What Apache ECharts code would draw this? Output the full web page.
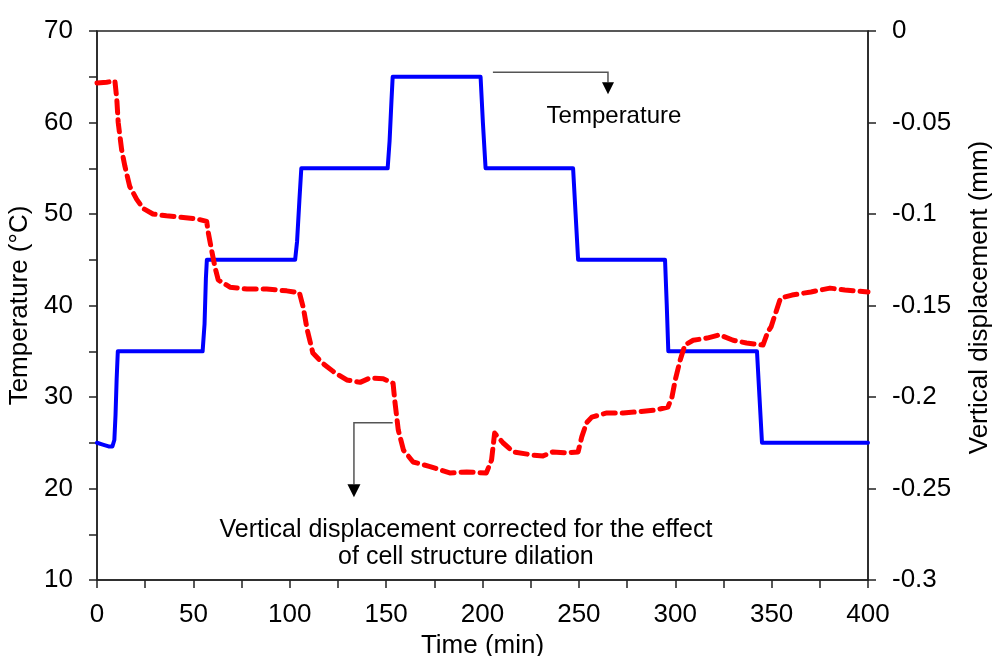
<!DOCTYPE html>
<html>
<head>
<meta charset="utf-8">
<script src="https://cdn.jsdelivr.net/npm/echarts@6/dist/echarts.min.js"></script>
<style>
html,body{margin:0;padding:0;background:#fff;}
#chart{width:997px;height:656px;}
</style>
</head>
<body>
<div id="chart"></div>
<script>
// Temperature (blue, left axis)
const tempTime = [0, 3, 6, 8, 9, 9.6, 10.2, 10.8, 54.8, 55.8, 56.5, 57, 102.8, 103.8, 105, 106, 150.8, 151.8, 152.8, 153.4, 199, 200.2, 201.6, 247, 248.3, 249.6, 294.7, 295.6, 296.4, 342.4, 343.7, 345, 400];
const tempValue = [25, 24.8, 24.6, 24.6, 25.3, 28, 32, 35, 35, 38, 43, 45, 45, 47, 51.5, 55, 55, 58, 62.5, 65, 65, 60, 55, 55, 50, 45, 45, 40, 35, 35, 30, 25, 25];

// Vertical displacement (red dashed, right axis)
const dispTime = [0, 5, 9.3, 10.3, 11, 12.8, 14.5, 17, 20.6, 24, 29, 36, 43, 51.7, 56.9, 57.7, 59.5, 61.2, 62.9, 69, 77.8, 88, 98.4, 105, 107, 109, 112, 117, 122.5, 129.6, 136.5, 141.6, 148.5, 153.6, 154.6, 156.3, 159, 164, 172.8, 183, 191.8, 202, 204.7, 206.3, 210.6, 216, 226, 231.4, 236.6, 243.6, 249.6, 251.5, 254, 256.7, 264.5, 273, 281.7, 290.4, 296.2, 298.3, 300, 302.5, 305, 309.3, 316.5, 323, 330, 337, 345.5, 348, 349.7, 354.6, 360.6, 370.4, 380.3, 388, 400];
const dispValue = [-0.0284, -0.028, -0.0273, -0.0377, -0.050, -0.065, -0.074, -0.085, -0.092, -0.097, -0.100, -0.101, -0.1017, -0.1027, -0.104, -0.110, -0.120, -0.129, -0.136, -0.140, -0.141, -0.141, -0.142, -0.143, -0.151, -0.163, -0.176, -0.1815, -0.186, -0.1907, -0.192, -0.1896, -0.190, -0.1925, -0.203, -0.218, -0.229, -0.2355, -0.238, -0.2415, -0.241, -0.2415, -0.2344, -0.2197, -0.225, -0.230, -0.2317, -0.2322, -0.230, -0.2306, -0.230, -0.2218, -0.214, -0.211, -0.2087, -0.2087, -0.208, -0.207, -0.2055, -0.200, -0.1907, -0.180, -0.1716, -0.169, -0.1678, -0.166, -0.169, -0.1705, -0.1716, -0.1645, -0.1617, -0.146, -0.1443, -0.1426, -0.1405, -0.1415, -0.1426];

// Axis tick labels
const xLabels = [0, 50, 100, 150, 200, 250, 300, 350, 400];
const yLeftLabels = [10, 20, 30, 40, 50, 60, 70];

const FONT = 'Liberation Sans, Arial, sans-serif';
const AXIS_COLOR = '#222';

const chart = echarts.init(document.getElementById('chart'), null, {renderer: 'canvas'});

const tempData = tempTime.map((t, i) => [t, tempValue[i]]);
const dispData = dispTime.map((t, i) => [t, dispValue[i]]);

const option = {
  animation: false,
  backgroundColor: '#fff',
  grid: {left: 97, right: 129, top: 31, bottom: 76, show: true, borderColor: AXIS_COLOR, borderWidth: 1.5, containLabel: false, outerBoundsMode: 'none'},
  xAxis: {
    type: 'value', min: 0, max: 400, interval: 25,
    name: 'Time (min)', nameLocation: 'middle', nameGap: 53,
    nameTextStyle: {fontFamily: FONT, fontSize: 26, color: '#000'},
    axisLine: {show: true, onZero: false, lineStyle: {color: AXIS_COLOR, width: 1.5}},
    axisTick: {show: true, inside: false, length: 8, lineStyle: {color: AXIS_COLOR, width: 1.5}},
    axisLabel: {fontFamily: FONT, fontSize: 26, color: '#000', margin: 22,
      formatter: v => xLabels.includes(v) ? String(v) : ''},
    splitLine: {show: false}
  },
  yAxis: [
    {
      type: 'value', min: 10, max: 70, interval: 5, position: 'left',
      name: 'Temperature (°C)', nameLocation: 'middle', nameGap: 63, nameRotate: 90,
      nameTextStyle: {fontFamily: FONT, fontSize: 26, color: '#000'},
      axisLine: {show: true, onZero: false, lineStyle: {color: AXIS_COLOR, width: 1.5}},
      axisTick: {show: true, inside: false, length: 8, lineStyle: {color: AXIS_COLOR, width: 1.5}},
      axisLabel: {fontFamily: FONT, fontSize: 26, color: '#000', margin: 24,
        formatter: v => yLeftLabels.includes(Math.round(v)) && Math.abs(v - Math.round(v)) < 1e-6 ? String(Math.round(v)) : ''},
      splitLine: {show: false}
    },
    {
      type: 'value', min: -0.3, max: 0, interval: 0.05, position: 'right',
      name: 'Vertical displacement (mm)', nameLocation: 'middle', nameGap: 99, nameRotate: 90,
      nameTextStyle: {fontFamily: FONT, fontSize: 26, color: '#000', padding: [0, 0, 0, 16]},
      axisLine: {show: true, onZero: false, lineStyle: {color: AXIS_COLOR, width: 1.5}},
      axisTick: {show: true, inside: false, length: 8, lineStyle: {color: AXIS_COLOR, width: 1.5}},
      axisLabel: {fontFamily: FONT, fontSize: 26, color: '#000', margin: 24,
        formatter: v => { const r = Math.round(v * 1000) / 1000; return String(r); }},
      splitLine: {show: false}
    }
  ],
  series: [
    {
      name: 'Temperature', type: 'line', yAxisIndex: 0, data: tempData,
      showSymbol: false, symbol: 'none', smooth: false,
      lineStyle: {color: '#0000ff', width: 4, join: 'round', cap: 'round'},
      z: 3
    },
    {
      name: 'Vertical displacement', type: 'line', yAxisIndex: 1, data: dispData,
      showSymbol: false, symbol: 'none', smooth: false,
      lineStyle: {color: '#ff0000', width: 5, type: [12, 7], cap: 'round', join: 'round'},
      z: 4
    }
  ]
};
chart.setOption(option);

// Annotations, anchored in data coordinates (time, temperature)
const annoTemp = {start: [205.4, 65.49], corner: [265.1, 65.49], tip: [265.1, 63.08], text: [268.2, 60.7]};
const annoDisp = {start: [153.4, 27.19], corner: [133.3, 27.19], tip: [133.3, 19.04], text: [191.4, 14.0]};

function px(p) { return chart.convertToPixel({xAxisIndex: 0, yAxisIndex: 0}, p); }

function arrowGroup(a, label, tw, th, fs) {
  const s = px(a.start), c = px(a.corner), t = px(a.tip), tx = px(a.text);
  return [
    {type: 'polyline', shape: {points: [s, c, [c[0], t[1] - th]]}, style: {stroke: '#555', lineWidth: 1.5, fill: null}, z: 10},
    {type: 'polygon', shape: {points: [[t[0] - tw / 2, t[1] - th], [t[0] + tw / 2, t[1] - th], [t[0], t[1]]]}, style: {fill: '#000'}, z: 10},
    {type: 'text', x: tx[0], y: tx[1], style: {text: label, fontFamily: FONT, fontSize: fs, fill: '#000', align: 'center', verticalAlign: 'middle', lineHeight: 27}, z: 10}
  ];
}

chart.setOption({
  graphic: [].concat(
    arrowGroup(annoTemp, 'Temperature', 12, 12, 24),
    arrowGroup(annoDisp, 'Vertical displacement corrected for the effect\nof cell structure dilation', 13, 13, 25)
  )
});
</script>
</body>
</html>
